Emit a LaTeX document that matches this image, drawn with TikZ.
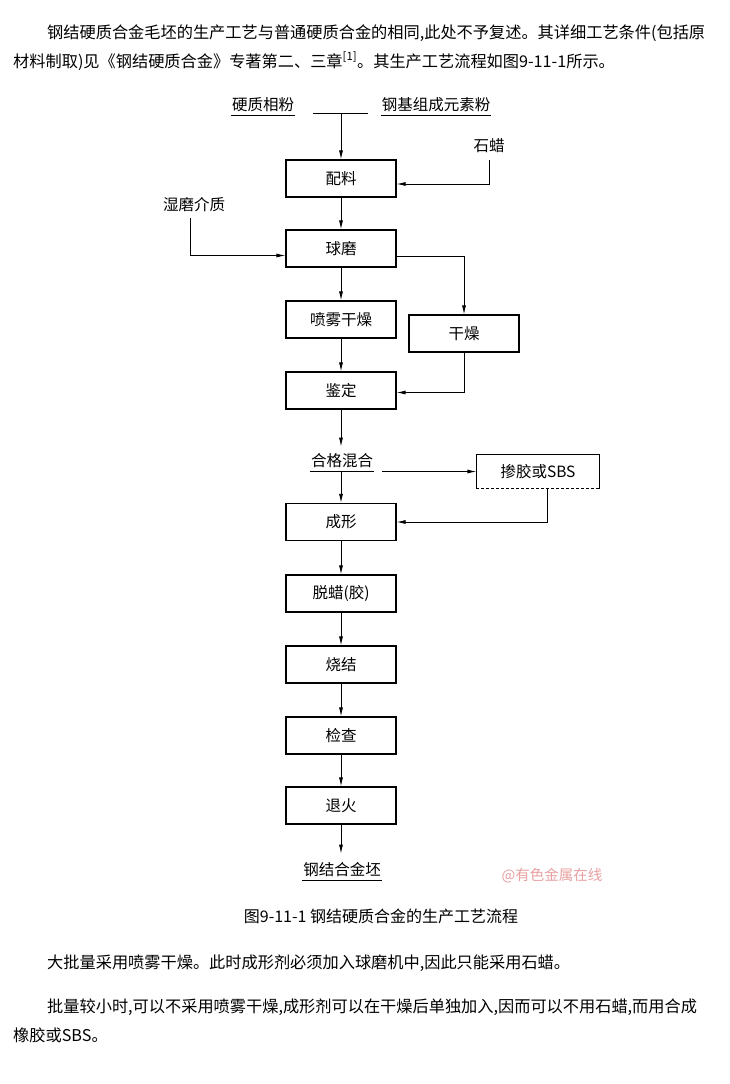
\documentclass[tikz,border=0pt]{standalone}
\usepackage{fontspec}
\setmainfont{Noto Sans CJK SC}
\usetikzlibrary{positioning,calc,arrows.meta}

\begin{document}
\begin{tikzpicture}[x=1pt, y=-1pt,
  box/.style={draw, line width=1.2pt, minimum width=110pt, minimum height=37pt, inner sep=0pt, font=\fontsize{15.5}{18}\selectfont},
  lab/.style={inner sep=1pt, font=\fontsize{15.5}{18}\selectfont},
  txt/.style={anchor=west, inner sep=0pt, font=\fontsize{16.2}{20}\selectfont},
  flow/.style={line width=0.8pt, -{Latex[length=9pt,width=4pt]}},
  uline/.style={line width=1.4pt}]
\useasboundingbox (0,0) rectangle (730,1084);

% text above the figure
\node[txt] (top1) at (47,33) {钢结硬质合金毛坯的生产工艺与普通硬质合金的相同,此处不予复述。其详细工艺条件(包括原};
\node[txt] (top2) at (13,61) {材料制取)见《钢结硬质合金》专著第二、三章\textsuperscript{[1]}。其生产工艺流程如图9-11-1所示。};

% raw materials
\node[lab] (hard) at (263,105) {硬质相粉};
\node[lab] (steel) at (436,105) {钢基组成元素粉};
\draw[uline] ([yshift=-2pt]hard.south west) -- ([yshift=-2pt]hard.south east);
\draw[uline] ([yshift=-2pt]steel.south west) -- ([yshift=-2pt]steel.south east);
\coordinate (jl) at (313,113);
\coordinate (jr) at (368,113);
\coordinate (jm) at (341,113);
\draw[line width=0.8pt] (jl) -- (jr);

% main column
\node[box] (peil) at (341,178.5) {配料};
\node[box] (ball) at (341,248.5) {球磨};
\node[box] (spray) at (341,319.5) {喷雾干燥};
\node[box] (dry) at (464,333.5) {干燥};
\node[box] (ident) at (341,390.5) {鉴定};
\node[lab] (qual) at (342,461) {合格混合};
\draw[uline] ([yshift=-2pt]qual.south west) -- ([yshift=-2pt]qual.south east);
\node[box, draw=none, minimum width=122pt, minimum height=33pt] (glue) at (538,471.5) {掺胶或SBS};
\draw[line width=1.2pt] (glue.south west) -- (glue.north west) -- (glue.north east) -- (glue.south east);
\draw[line width=1pt, densely dashed] (glue.south west) -- (glue.south east);
\node[box] (form) at (341,522) {成形};
\node[box] (dewax) at (341,593.5) {脱蜡(胶)};
\node[box] (sinter) at (341,664.5) {烧结};
\node[box] (check) at (341,735.5) {检查};
\node[box] (anneal) at (341,805.5) {退火};
\node[lab] (blank) at (342,870) {钢结合金坯};
\draw[uline] ([yshift=-2pt]blank.south west) -- ([yshift=-2pt]blank.south east);

% side inputs
\node[lab] (wax) at (489,146) {石蜡};
\node[lab] (wet) at (194,205) {湿磨介质};
\coordinate (qtail) at (382,471.5);

% connectors
\draw[flow] (jm) -- (peil.north);
\draw[flow] ([yshift=-6pt]wax.south) |- ([yshift=-5.5pt]peil.east);
\draw[flow] (peil) -- (ball);
\draw[flow] ([xshift=-4pt,yshift=-5pt]wet.south) |- ([yshift=-7pt]ball.west);
\draw[flow] (ball) -- (spray);
\draw[flow] ([yshift=-8pt]ball.east) -| (dry.north);
\draw[flow] (spray) -- (ident);
\draw[flow] (dry.south) |- ([yshift=-2pt]ident.east);
\draw[flow] (ident.south) -- ([yshift=6pt]ident.south |- qual.north);
\draw[flow] ([yshift=-2pt]qual.south -| form.north) -- (form.north);
\draw[flow] (qtail) -- (glue.west);
\draw[flow] ([xshift=9pt]glue.south) |- (form.east);
\draw[flow] (form) -- (dewax);
\draw[flow] (dewax) -- (sinter);
\draw[flow] (sinter) -- (check);
\draw[flow] (check) -- (anneal);
\draw[flow] (anneal.south) -- ([yshift=8pt]anneal.south |- blank.north);

% watermark and caption
\node[lab, text={rgb,255:red,232;green,160;blue,160}, font=\fontsize{14.5}{17}\selectfont] (mark) at (552,876) {@有色金属在线};
\node[lab, font=\fontsize{16}{18}\selectfont] (cap) at (381,916) {图9-11-1 钢结硬质合金的生产工艺流程};

% text below the figure
\node[txt] (bot1) at (47,963) {大批量采用喷雾干燥。此时成形剂必须加入球磨机中,因此只能采用石蜡。};
\node[txt] (bot2) at (47,1007) {批量较小时,可以不采用喷雾干燥,成形剂可以在干燥后单独加入,因而可以不用石蜡,而用合成};
\node[txt] (bot3) at (13,1035) {橡胶或SBS。};
\end{tikzpicture}
\end{document}
